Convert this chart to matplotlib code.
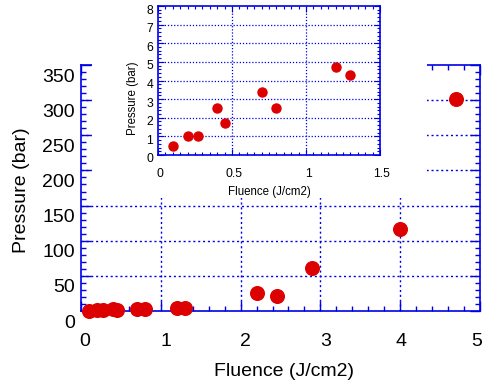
import matplotlib
matplotlib.use("Agg")
import matplotlib.pyplot as plt
from matplotlib.patches import Rectangle
from matplotlib.transforms import ScaledTranslation
from matplotlib.ticker import MultipleLocator

# ---- data ----
fluence_main = [0.1, 0.2, 0.27, 0.4, 0.45, 0.7, 0.8, 1.2, 1.3, 2.2, 2.45, 2.9, 4.0, 4.7]
pressure_main = [0.5, 1.0, 1.0, 2.5, 1.7, 3.4, 2.5, 4.7, 4.3, 25, 21, 61, 117, 301]

fluence_inset = [0.1, 0.2, 0.27, 0.4, 0.45, 0.7, 0.8, 1.2, 1.3]
pressure_inset = [0.5, 1.0, 1.0, 2.5, 1.7, 3.4, 2.5, 4.7, 4.3]

main_xticks = [0, 1, 2, 3, 4, 5]
main_yticks = [0, 50, 100, 150, 200, 250, 300, 350]
inset_xticks = [0, 0.5, 1, 1.5]
inset_xticklabels = ["0", "0.5", "1", "1.5"]
inset_yticks = [0, 1, 2, 3, 4, 5, 6, 7, 8]

xlabel = "Fluence (J/cm2)"
ylabel = "Pressure (bar)"

plt.rcParams['font.family'] = ['Liberation Sans', 'DejaVu Sans']

BLUE = '#0000e8'
RED = '#dd0000'
W, H = 482, 386
DPI = 100

fig = plt.figure(figsize=(W / DPI, H / DPI), dpi=DPI)

def fx(px):
    return px / W

def fy(py):
    return 1 - py / H

# ---- main axes ----
ax = fig.add_axes([fx(81), fy(311), fx(480) - fx(81), fy(65) - fy(311)])
ax.set_zorder(0)
ax.plot(fluence_main, pressure_main, 'o', color=RED, ms=9.8, mec=RED, clip_on=False, zorder=5)
ax.set_xlim(0, 5)
ax.set_ylim(0, 350)
ax.set_xticks(main_xticks)
ax.set_yticks(main_yticks)
ax.xaxis.set_minor_locator(MultipleLocator(0.2))
ax.yaxis.set_minor_locator(MultipleLocator(10))
for s in ax.spines.values():
    s.set_color(BLUE)
    s.set_linewidth(1.2)
ax.tick_params(which='both', direction='in', top=True, right=True, color=BLUE, width=1.0)
ax.tick_params(which='major', length=7, labelsize=14)
ax.tick_params(which='minor', length=3.5)
ax.tick_params(axis='x', which='major', pad=16)
ax.tick_params(axis='y', which='major', pad=4.5)
for yv in main_yticks[1:-1]:
    ax.axhline(yv, color=BLUE, ls=(0, (1.5, 2)), lw=1.0, zorder=1)
for xv in main_xticks[1:-1]:
    ax.axvline(xv, color=BLUE, ls=(0, (1.5, 2)), lw=1.0, zorder=1)
for lab in ax.get_yticklabels():
    lab.set_transform(lab.get_transform() + ScaledTranslation(0, -10 / DPI, fig.dpi_scale_trans))
x_label_shift = [4, 5, 5, 5, 1, -3]
for lab, dx in zip(ax.get_xticklabels(), x_label_shift):
    lab.set_transform(lab.get_transform() + ScaledTranslation(dx / DPI, 0, fig.dpi_scale_trans))

fig.text(fx(22), fy(190), ylabel, rotation=90, ha='center', va='center', fontsize=14)
fig.text(fx(284.5), fy(371), xlabel, ha='center', va='center', fontsize=14)

# ---- white cover box behind inset ----
box = Rectangle((fx(92), fy(198)), fx(427) - fx(92), 1 - fy(198),
                transform=fig.transFigure, facecolor='white', edgecolor='none', zorder=1)
fig.add_artist(box)

# ---- inset axes ----
ai = fig.add_axes([fx(158), fy(155), fx(380) - fx(158), fy(6) - fy(155)])
ai.set_zorder(2)
ai.plot(fluence_inset, pressure_inset, 'o', color=RED, ms=6.5, mec=RED, zorder=5)
ai.set_xlim(0, 1.5)
ai.set_ylim(0, 8)
ai.set_xticks(inset_xticks)
ai.set_xticklabels(inset_xticklabels)
ai.set_yticks(inset_yticks)
ai.xaxis.set_minor_locator(MultipleLocator(0.05))
ai.yaxis.set_minor_locator(MultipleLocator(0.2))
for s in ai.spines.values():
    s.set_color(BLUE)
    s.set_linewidth(1.2)
ai.tick_params(which='both', direction='in', top=True, right=True, color=BLUE, width=0.8)
ai.tick_params(which='major', length=4, labelsize=8.7)
ai.tick_params(which='minor', length=2)
ai.tick_params(axis='x', which='major', pad=9.5)
ai.tick_params(axis='y', which='major', pad=3.5)
for yv in inset_yticks[1:-1]:
    ai.axhline(yv, color=BLUE, ls=(0, (1, 1.5)), lw=0.9, zorder=1)
for xv in inset_xticks[1:-1]:
    ai.axvline(xv, color=BLUE, ls=(0, (1, 1.5)), lw=0.9, zorder=1)
for lab in ai.get_yticklabels():
    lab.set_transform(lab.get_transform() + ScaledTranslation(0, -3 / DPI, fig.dpi_scale_trans))
for lab in ai.get_xticklabels():
    lab.set_transform(lab.get_transform() + ScaledTranslation(2 / DPI, 0, fig.dpi_scale_trans))

fig.text(fx(133), fy(98), ylabel, rotation=90, ha='center', va='center', fontsize=8.3)
fig.text(fx(269), fy(192), xlabel, ha='center', va='center', fontsize=8.3)

fig.savefig('out.png', dpi=DPI)
